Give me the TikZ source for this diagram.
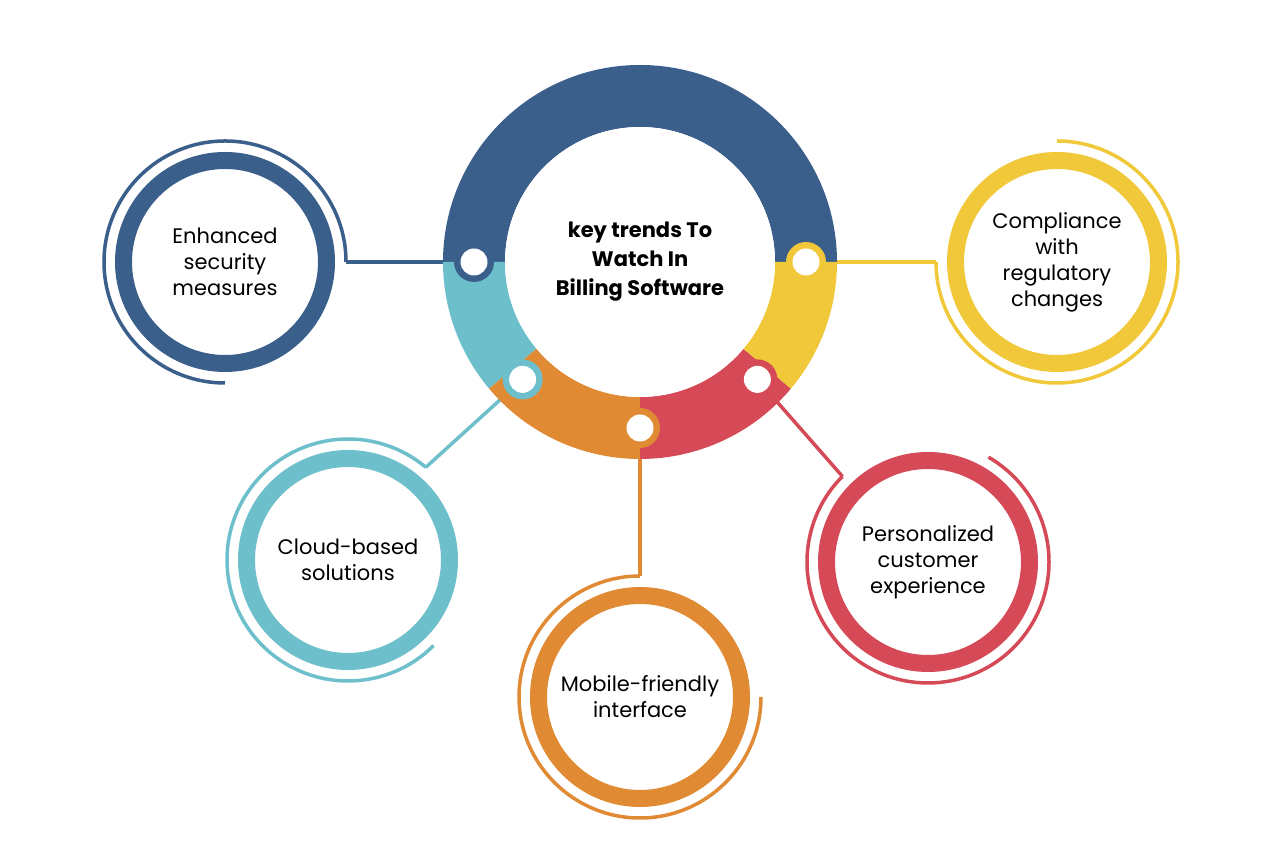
\documentclass[tikz,border=0pt]{standalone}
\usepackage{fontspec}
\setmainfont{Poppins}
\usetikzlibrary{calc}
\definecolor{cblue}{HTML}{3A5F8A}
\definecolor{cteal}{HTML}{6DBFCC}
\definecolor{corange}{HTML}{E08A33}
\definecolor{cred}{HTML}{D64A57}
\definecolor{cyellow}{HTML}{F0C83A}
\begin{document}
\begin{tikzpicture}[x=1pt,y=1pt,
  conn/.style={line width=3.5pt},
  thin/.style={line width=3.5pt},
  sattext/.style={align=center,font=\fontsize{21}{26}\selectfont},
  dotring/.style={circle,minimum size=40pt,inner sep=0pt},
  dotwhite/.style={circle,fill=white,minimum size=27pt,inner sep=0pt}]
\useasboundingbox (0,0) rectangle (1280,853);
\fill[white] (0,0) rectangle (1280,853);
\coordinate (C) at (640,591);
% connectors
\coordinate (E) at (225,591);
\coordinate (Co) at (1057,591);
\coordinate (R) at (928,291);
\coordinate (M) at (640,156);
\coordinate (Cl) at (348,293);
\coordinate (eA) at ($(E)+(0:121)$);
\coordinate (coA) at ($(Co)+(180:121)$);
\coordinate (rA) at ($(R)+(135:121)$);
\coordinate (mA) at ($(M)+(90:121)$);
\coordinate (clA) at ($(Cl)+(50:121)$);
\coordinate (d1) at ($(C)+(180:166)$);
\coordinate (d2) at ($(C)+(0:166)$);
\coordinate (d3) at ($(C)+(-45:166)$);
\coordinate (d4) at ($(C)+(-90:166)$);
\coordinate (d5) at ($(C)+(-135:166)$);
\draw[conn,cblue] (d1) -- (eA);
\draw[conn,cyellow] (d2) -- (coA);
\draw[conn,cred] (d3) -- (rA);
\draw[conn,corange] (d4) -- (mA);
\draw[conn,cteal] (d5) -- (clA);
% central ring
\foreach \a/\b/\c in {0/180/cblue,180/220/cteal,220/270/corange,270/320/cred,320/360/cyellow}{
  \fill[\c] ($(C)+(\a:197)$) arc[start angle=\a,end angle=\b,radius=197]
     -- ($(C)+(\b:135)$) arc[start angle=\b,end angle=\a,radius=135] -- cycle;
}
\fill[white] (C) circle[radius=135];
\node[font=\bfseries\fontsize{21}{29}\selectfont,align=center] (center) at (C) {key trends To\\Watch In\\Billing Software};
% dots
\foreach \d/\c in {d1/cblue,d2/cyellow,d3/cred,d4/corange,d5/cteal}{
  \node[dotring,fill=\c] at (\d) {};
  \node[dotwhite] at (\d) {};
}
% satellites
\foreach \p/\c/\s/\e in {E/cblue/0/270,Co/cyellow/180/450,R/cred/135/420,M/corange/90/360,Cl/cteal/50/315}{
  \fill[white] (\p) circle[radius=110];
  \draw[\c,line width=17pt] (\p) circle[radius=101.5];
  \draw[\c,thin] ($(\p)+(\s:121)$) arc[start angle=\s,end angle=\e,radius=121];
}
\node[sattext] (tE) at (E) {Enhanced\\security\\measures};
\node[sattext] (tCo) at (Co) {Compliance\\with\\regulatory\\changes};
\node[sattext] (tR) at (R) {Personalized\\customer\\experience};
\node[sattext] (tM) at (M) {Mobile-friendly\\interface};
\node[sattext] (tCl) at (Cl) {Cloud-based\\solutions};
\end{tikzpicture}
\end{document}
